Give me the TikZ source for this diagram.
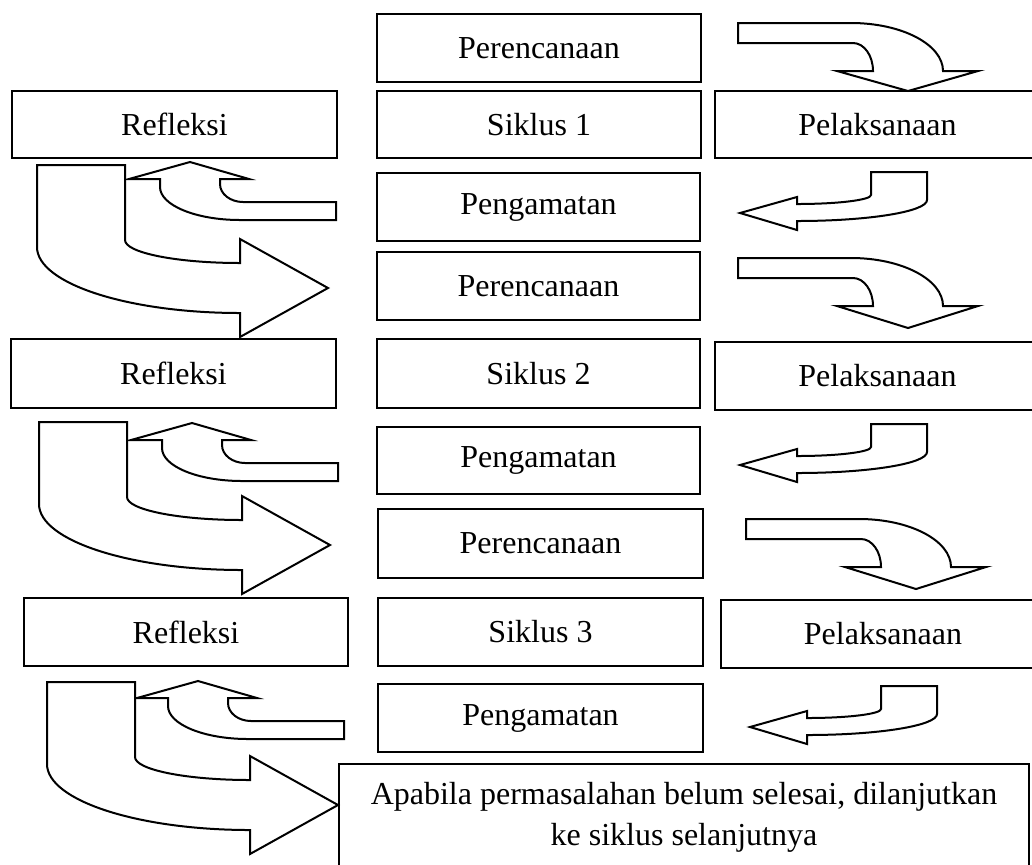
\documentclass[tikz,border=0pt]{standalone}
\usepackage{fontspec}
\setmainfont{Liberation Serif}
\tikzset{
  box/.style={draw, line width=1.3pt, fill=white, inner sep=0pt, outer sep=0pt,
    font=\fontsize{16}{20.5}\selectfont, align=center},
  blockarrow/.style={draw, line width=1pt, fill=white, line join=miter},
}
\newcommand\mybox[7][]{%
  \pgfmathsetmacro\bcx{(#3+#5)/2}\pgfmathsetmacro\bcy{(#4+#6)/2}%
  \pgfmathsetmacro\bww{(#5-#3)*0.5}\pgfmathsetmacro\bhh{(#6-#4)*0.5}%
  \node[box, minimum width=\bww pt, minimum height=\bhh pt, #1] (#2) at (\bcx,\bcy) {#7};}
% bent-down arrow (Perencanaan -> Pelaksanaan)
\newcommand\arrA[3]{\draw[blockarrow,shift={(#1,#2)}] (0,0) -- (113,0)
  arc[start angle=270,end angle=360,x radius=92,y radius=48] -- (240,48) -- (170,#3) -- (99,48) -- (135,48)
  arc[start angle=0,end angle=-90,x radius=20,y radius=28] -- (0,20) -- cycle;}
% left arrow (Pelaksanaan -> Pengamatan)
\newcommand\arrB[2]{\draw[blockarrow,shift={(#1,#2)}] (0,0) -- (56,0) -- (56,28)
  arc[start angle=0,end angle=90,x radius=130,y radius=21] -- (-74,58) -- (-131,41) -- (-74,25) -- (-74,32)
  arc[start angle=90,end angle=0,x radius=74,y radius=9] -- cycle;}
% bent-up arrow (Pengamatan -> Refleksi)
\newcommand\arrC[2]{\draw[blockarrow,shift={(#1,#2)}] (0,0) -- (-93,0)
  arc[start angle=90,end angle=180,x radius=23,y radius=18] -- (-116,-23) -- (-87,-23) -- (-146,-40) -- (-207,-23) -- (-176,-23) -- (-176,-15)
  arc[start angle=180,end angle=90,x radius=80,y radius=33] -- (0,18) -- cycle;}
% U arrow (Refleksi -> next Perencanaan)
\newcommand\arrD[2]{\draw[blockarrow,shift={(#1,#2)}] (0,0) -- (88,0) -- (88,75)
  arc[start angle=180,end angle=90,x radius=115,y radius=23] -- (203,74) -- (291,123) -- (203,172) -- (203,148)
  arc[start angle=90,end angle=180,x radius=203,y radius=66] -- cycle;}
\begin{document}
\begin{tikzpicture}[x=0.5pt,y=-0.5pt]
\useasboundingbox (0,0) rectangle (1032,864);
\clip (0,0) rectangle (1032,864);
% cycle 1
\mybox[line width=1pt]{p1}{377}{14}{701}{82}{Perencanaan}
\mybox{r1}{12}{91}{337}{158}{Refleksi}
\mybox{s1}{377}{91}{701}{158}{Siklus 1}
\mybox{l1}{715}{91}{1040}{158}{Pelaksanaan}
\mybox{g1}{377}{173}{700}{241}{Pengamatan}
% cycle 2
\mybox{p2}{377}{252}{700}{320}{Perencanaan}
\mybox{r2}{11}{339}{336}{408}{Refleksi}
\mybox{s2}{377}{339}{700}{408}{Siklus 2}
\mybox{l2}{715}{342}{1040}{410}{Pelaksanaan}
\mybox{g2}{377}{427}{700}{494}{Pengamatan}
% cycle 3
\mybox{p3}{378}{509}{703}{578}{Perencanaan}
\mybox{r3}{24}{598}{348}{666}{Refleksi}
\mybox{s3}{378}{598}{703}{666}{Siklus 3}
\mybox{l3}{721}{600}{1045}{668}{Pelaksanaan}
\mybox{g3}{378}{684}{703}{752}{Pengamatan}
% final
\mybox{fin}{339}{764}{1029}{871}{Apabila permasalahan belum selesai, dilanjutkan\\ke siklus selanjutnya}
% arrows
\arrA{738}{23}{68}
\arrA{738}{258}{70}
\arrA{746}{519}{70}
\arrB{871}{172}
\arrB{871}{424}
\arrB{881}{686}
\arrC{336}{202}
\arrC{338}{463}
\arrC{344}{721}
\arrD{37}{165}
\arrD{39}{422}
\arrD{47}{682}
\end{tikzpicture}
\end{document}
